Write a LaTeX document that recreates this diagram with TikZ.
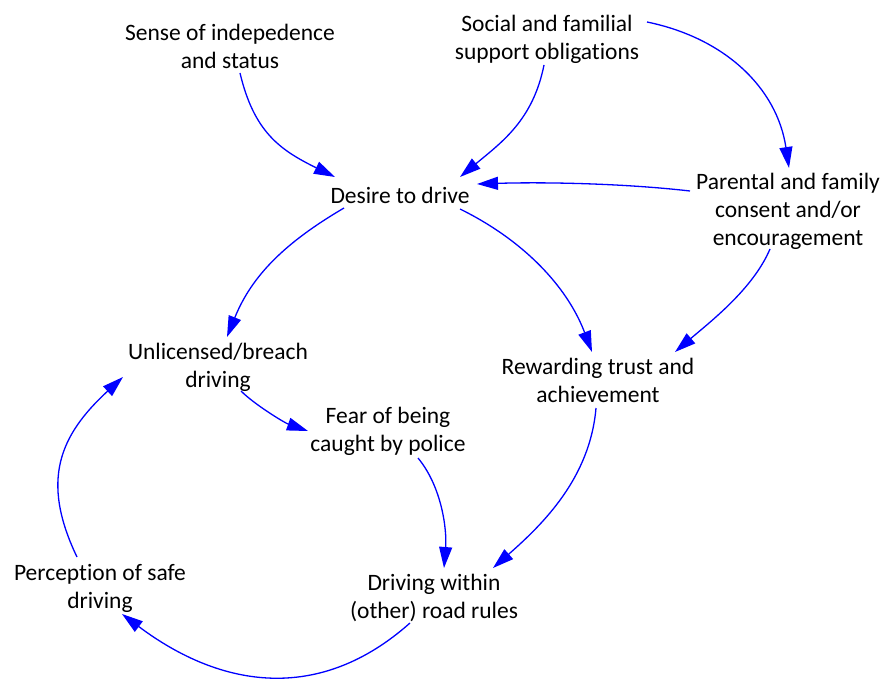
\documentclass[tikz,border=0pt]{standalone}
\usepackage{fontspec}
\setmainfont[Ligatures=NoCommon]{Carlito}
\usetikzlibrary{arrows.meta}
\definecolor{arrowblue}{RGB}{0,0,255}
\tikzset{
  lbl/.style={align=center, inner sep=0pt, font=\fontsize{23.5}{28}\selectfont,
    execute at begin node=\strut, execute at end node=\strut},
  link/.style={draw=arrowblue, line width=1.3pt,
    -{Triangle[length=21pt,width=13pt]}}
}
\begin{document}
\begin{tikzpicture}[x=1pt,y=-1pt]
\useasboundingbox (0,0) rectangle (888,679);

\node[lbl] (sense) at (230,51) {Sense of indepedence\\and status};
\node[lbl] (social) at (547,42) {Social and familial\\support obligations};
\node[lbl] (desire) at (400,198) {Desire to drive};
\node[lbl] (parental) at (788,214) {Parental and family\\consent and/or\\encouragement};
\node[lbl] (unlic) at (218,370) {Unlicensed/breach\\driving};
\node[lbl] (reward) at (598,385) {Rewarding trust and\\achievement};
\node[lbl] (fear) at (388,434) {Fear of being\\caught by police};
\node[lbl] (percep) at (100,591) {Perception of safe\\driving};
\node[lbl] (within) at (434,601) {Driving within\\(other) road rules};

% Sense -> Desire
\draw[link] ([shift={(10,22)}]sense.center) .. controls (254,132) and (280,150) .. ([shift={(-65,-21)}]desire.center);
% Social -> Desire
\draw[link] ([shift={(-3,23)}]social.center) .. controls (533,120) and (502,142) .. ([shift={(60,-21)}]desire.center);
% Social -> Parental
\draw[link] ([shift={(100,-20)}]social.center) .. controls (725,38) and (777,88) .. ([shift={(1,-46)}]parental.center);
% Parental -> Desire
\draw[link] ([shift={(-98,-23)}]parental.center) .. controls (620,183) and (540,182) .. ([shift={(77,-14)}]desire.center);
% Desire -> Unlicensed
\draw[link] ([shift={(-56,10)}]desire.center) .. controls (286,242) and (252,275) .. ([shift={(9,-33)}]unlic.center);
% Desire -> Rewarding
\draw[link] ([shift={(60,11)}]desire.center) .. controls (523,240) and (567,286) .. ([shift={(-6,-33)}]reward.center);
% Parental -> Rewarding
\draw[link] ([shift={(-18,35)}]parental.center) .. controls (753,289) and (710,322) .. ([shift={(77,-33)}]reward.center);
% Rewarding -> Driving within
\draw[link] ([shift={(-2,23)}]reward.center) .. controls (590,478) and (543,524) .. ([shift={(59,-33)}]within.center);
% Unlicensed -> Fear
\draw[link] ([shift={(23,21)}]unlic.center) .. controls (255,405) and (285,423) .. ([shift={(-80,-3)}]fear.center);
% Fear -> Driving within
\draw[link] ([shift={(30,24)}]fear.center) .. controls (442,487) and (447,530) .. ([shift={(10,-33)}]within.center);
% Driving within -> Perception
\draw[link] ([shift={(-24,22)}]within.center) .. controls (320,703) and (222,689) .. ([shift={(22,23)}]percep.center);
% Perception -> Unlicensed
\draw[link] ([shift={(-23,-34)}]percep.center) .. controls (40,480) and (60,435) .. ([shift={(-95,7)}]unlic.center);
\end{tikzpicture}
\end{document}
